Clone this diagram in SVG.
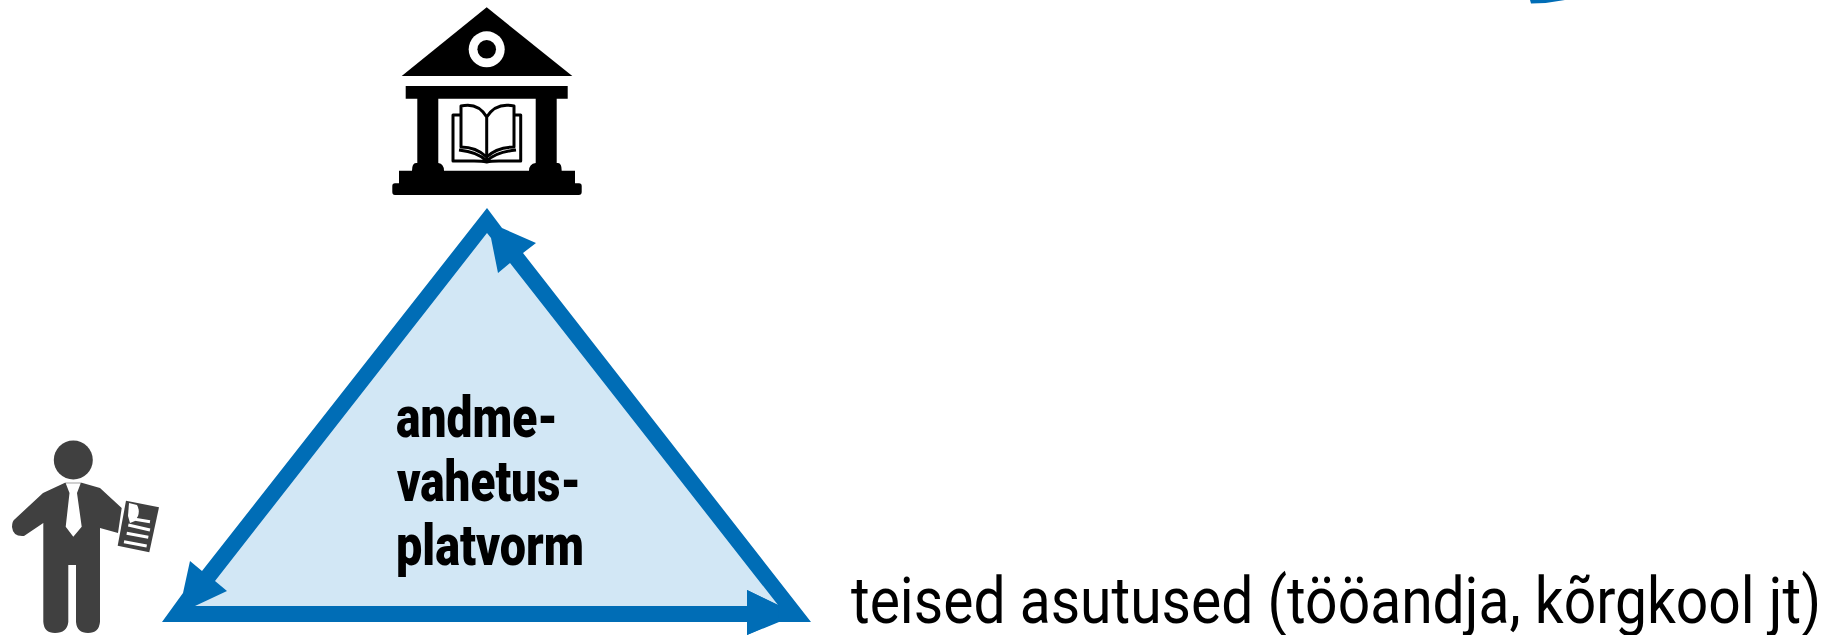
<svg xmlns="http://www.w3.org/2000/svg" width="1828" height="635" viewBox="0 0 1828 635">
<style>
.lab{font-family:"Roboto","Liberation Sans",sans-serif;fill:#000}
.b{font-weight:900;font-size:58px}
.k{fill:#000}.g{fill:#404040}.w{fill:#fff}.blue{fill:#006db6}.light{fill:#d2e7f5}
.book{fill:none;stroke:#000;stroke-width:3;stroke-linejoin:round}
.pw{fill:none;stroke:#fff;stroke-width:3}
</style>
<rect width="1828" height="635" fill="#fff"/>
<g id="connectors">
<path class="blue" d="M487 208L502 228L536 243L523 253L811 622H779L747 635V622H162L183 593L190 561L202 571Z"/>
<path class="light" d="M487 233L491 238L498 273L510 263L778 605L747 590V606H195L227 591L215 581Z"/>
<path class="blue" d="M747 590L778 605L779 621L747 635Z"/>
</g>
<g id="platform">
<text class="lab b" x="396" y="437" textLength="162" lengthAdjust="spacingAndGlyphs">andme-</text>
<text class="lab b" x="397" y="501" textLength="184" lengthAdjust="spacingAndGlyphs">vahetus-</text>
<text class="lab b" x="396" y="565" textLength="188" lengthAdjust="spacingAndGlyphs">platvorm</text>
</g>
<g id="institution">
<path class="k" d="M486.700 7.300L572.300 76H401.700Z"/>
<circle cx="486.700" cy="49.300" r="18" class="w"/><circle cx="486.700" cy="49.300" r="9.300" class="k"/>
<path class="k" d="M405.700 86H567.700V98.700H556.700V163H558Q561.700 163 561.700 170.700H575V183.300H579Q581.700 183.300 581.700 186V192Q581.700 195 578.700 195H395Q392.300 195 392.300 192V186Q392.300 183.300 395 183.300H399V170.700H412Q412 163 416 163H417.300V98.700H405.700Z"/>
<path class="w" d="M438.300 98.700H535.700V163Q529 164 529 170.700H444Q444 164 438.300 163Z"/>
<path class="book" d="M461 106Q478 102 486.700 117Q496 102 514 106V147Q497 147 486.700 157Q476 147 461 147ZM486.700 117V161"/>
<path class="book" d="M461 115H453V161H474Q482 161 486.700 162Q491 161 499 161H520.700V115H514M459 150Q478 152 486.700 161Q496 152 516 150"/>
</g>
<g id="person">
<circle cx="73.300" cy="460" r="19.500" class="g"/>
<path class="g" d="M65 482.700H81.700L100 488L121.700 508L118 533L100 528V621.700Q99 633 88 633Q77 633 76 622V565H68.300V622Q67 633 55 633Q44 633 43.300 621.700V523L24 536Q13 537 12 527Q12 521 15 519L43 493Z"/>
<path class="w" d="M65.700 483.300H80.700L77 493L81.700 526.700L73.300 536.700L65.700 526.700L69.500 493Z"/>
<path class="g" d="M126 500.700L159 507.300L149.300 552.300L117.700 545.700Z"/>
<path class="w" d="M129 503L137 505Q140 510 138 516L135 521L130 523L128 516Z"/>
<path class="pw" d="M135 519.300L150 521.700M128.300 525L150 530M126.700 533.300L148.300 537.300M124 541.700L146.700 546"/>
</g>
<g id="other"><text class="lab" x="851" y="623" font-size="64" textLength="970" lengthAdjust="spacingAndGlyphs">teised asutused (tööandja, kõrgkool jt)</text></g>
<path class="blue" d="M1530 0H1565Q1548 3.500 1531 3.500Z"/>
</svg>
